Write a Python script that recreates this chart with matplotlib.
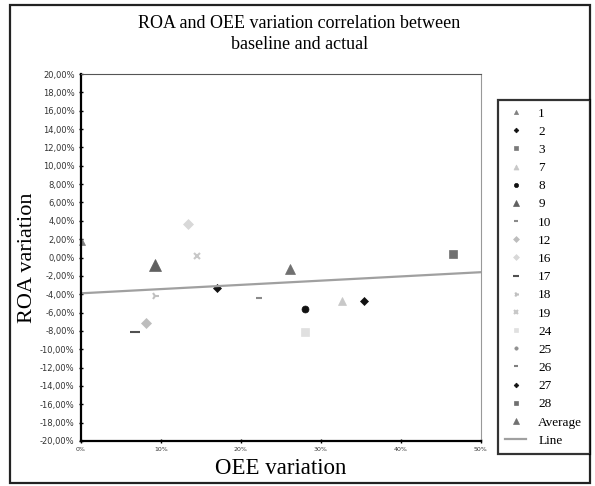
import numpy as np
import matplotlib
matplotlib.use("Agg")
import matplotlib.pyplot as plt
from matplotlib.ticker import FuncFormatter
from matplotlib.patches import Rectangle

# ---- data (OEE variation %, ROA variation %) ----
series_labels = ["1", "2", "3", "7", "8", "9", "10", "12", "16", "17",
                 "18", "19", "24", "25", "26", "27", "28", "Average"]
oee_var = [0.1, 17.0, np.nan, 32.7, 28.0, 9.25, 22.25, 8.2, 13.4, 6.75,
           9.25, 14.5, 28.0, np.nan, np.nan, 35.4, 46.5, 26.1]
roa_var = [1.7, -3.3, np.nan, -4.7, -5.6, -0.8, -4.4, -7.1, 3.7, -8.15,
           -4.2, 0.16, -8.15, np.nan, np.nan, -4.7, 0.4, -1.3]
line_x = [0.0, 50.0]
line_y = [-3.9, -1.6]
x_ticks = [0, 10, 20, 30, 40, 50]
y_ticks = list(range(-20, 21, 2))

# ---- styles ----
markers = ["^", "D", "s", "^", "o", "^", "_", "D", "D", "_",
           "4", "x", "s", "o", "_", "D", "s", "^"]
colors = ["#808080", "#111111", "#7a7a7a", "#c8c8c8", "#111111", "#606060",
          "#8a8a8a", "#bdbdbd", "#d8d8d8", "#505050", "#c0c0c0", "#c8c8c8",
          "#e0e0e0", "#909090", "#808080", "#111111", "#707070", "#707070"]
sizes = [5, 4, 4, 6, 5, 8, 5, 5, 5, 7, 6, 5, 6, 4, 5, 4, 6, 7]

plt.rcParams['font.family'] = ['Liberation Serif', 'DejaVu Serif']

fig = plt.figure(figsize=(5.95, 4.86), dpi=100)
ax = fig.add_axes([0.136, 0.0926, 0.672, 0.755])

handles = []
for lab, xv, yv, m, c, s in zip(series_labels, oee_var, roa_var, markers, colors, sizes):
    h, = ax.plot([xv], [yv], linestyle="none", marker=m, color=c,
                 markersize=s, markeredgewidth=1.5 if m in ("_", "x", "4") else 0.5,
                 label=lab, clip_on=False)
    handles.append(h)
lh, = ax.plot(line_x, line_y, color="#a0a0a0", linewidth=1.6, label="Line")
handles.append(lh)

ax.set_xlim(0, 50)
ax.set_ylim(-20, 20)
ax.set_xticks(x_ticks)
ax.set_yticks(y_ticks)
ax.xaxis.set_major_formatter(FuncFormatter(lambda v, p: f"{v:.0f}%"))
ax.yaxis.set_major_formatter(FuncFormatter(lambda v, p: f"{v:.2f}%".replace(".", ",")))
ax.tick_params(axis="both", length=3, width=1.0, direction="inout",
               labelfontfamily="DejaVu Sans", labelcolor="#333333")
ax.tick_params(axis="x", labelsize=4.5, pad=3)
ax.tick_params(axis="y", labelsize=6, pad=3)

ax.spines["left"].set_linewidth(1.6)
ax.spines["bottom"].set_linewidth(1.6)
ax.spines["top"].set_linewidth(0.8)
ax.spines["top"].set_color("#555555")
ax.spines["right"].set_linewidth(0.8)
ax.spines["right"].set_color("#999999")

ax.set_xlabel("OEE variation", fontsize=16.5, labelpad=4)
ax.set_ylabel("ROA variation", fontsize=16, labelpad=2)

fig.text(0.503, 0.93, "ROA and OEE variation correlation between\nbaseline and actual",
         ha="center", va="center", fontsize=13, linespacing=1.35)

leg = fig.legend(handles=handles, loc="upper left",
                 bbox_to_anchor=(0.837, 0.794), fontsize=9.5, markerscale=0.6,
                 labelspacing=0.45, handlelength=1.6, handletextpad=0.9,
                 borderpad=0.55, frameon=True, fancybox=False, borderaxespad=0)
leg.get_frame().set_edgecolor("#000000")
leg.get_frame().set_linewidth(1.6)

# outer frame
fig.patches.append(Rectangle((0.017, 0.006), 0.975, 0.983, transform=fig.transFigure,
                             fill=False, edgecolor="#222222", linewidth=1.6))

fig.savefig("out.png", dpi=100)
